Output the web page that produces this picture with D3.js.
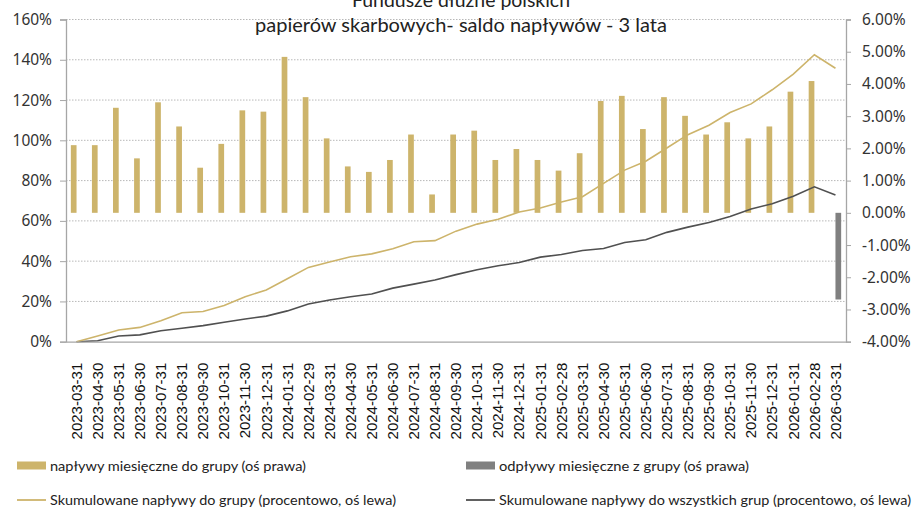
<!DOCTYPE html>
<html><head><meta charset="utf-8">
<script src="https://cdn.jsdelivr.net/npm/d3@7"></script>
<style>body{margin:0;background:#fff}svg{display:block}</style>
</head><body><svg id="c" width="912" height="509"></svg>
<script>
const dates = ["2023-03-31","2023-04-30","2023-05-31","2023-06-30","2023-07-31","2023-08-31","2023-09-30","2023-10-31","2023-11-30","2023-12-31","2024-01-31","2024-02-29","2024-03-31","2024-04-30","2024-05-31","2024-06-30","2024-07-31","2024-08-31","2024-09-30","2024-10-31","2024-11-30","2024-12-31","2025-01-31","2025-02-28","2025-03-31","2025-04-30","2025-05-31","2025-06-30","2025-07-31","2025-08-31","2025-09-30","2025-10-31","2025-11-30","2025-12-31","2026-01-31","2026-02-28","2026-03-31"];
// monthly inflows to group, % (right axis)
const inflows = [2.10,2.10,3.26,1.69,3.43,2.68,1.40,2.14,3.18,3.14,4.84,3.59,2.31,1.44,1.27,1.64,2.43,0.57,2.43,2.55,1.64,1.98,1.64,1.31,1.85,3.47,3.63,2.60,3.59,3.01,2.43,2.81,2.31,2.68,3.76,4.09,0];
// monthly outflows from group, % (right axis)
const outflows = [0,0,0,0,0,0,0,0,0,0,0,0,0,0,0,0,0,0,0,0,0,0,0,0,0,0,0,0,0,0,0,0,0,0,0,0,-2.69];
// cumulative inflows to group, % (left axis)
const cumGroup = [0,2.8,5.8,7.1,10.4,14.4,15.0,18.0,22.3,25.7,31.3,36.9,39.6,42.2,43.6,46.2,49.6,50.2,54.9,58.4,60.8,64.4,66.4,69.4,72.0,78.6,85.2,89.6,96.2,102.8,107.5,113.8,118.1,125.1,132.9,142.5,135.8];
// cumulative inflows to all groups, % (left axis)
const cumAll = [0,0.5,2.8,3.4,5.4,6.7,8.0,9.7,11.3,12.7,15.3,18.7,20.7,22.3,23.7,26.6,28.6,30.6,33.3,35.7,37.7,39.3,42.0,43.3,45.3,46.3,49.3,50.6,54.3,56.9,59.2,62.2,65.9,68.5,72.2,76.9,72.9];
const leftTicks = [0,20,40,60,80,100,120,140,160];
const rightTicks = [-4,-3,-2,-1,0,1,2,3,4,5,6];
const titleLines = ["Fundusze dłużne polskich","papierów skarbowych- saldo napływów - 3 lata"];
const legendItems = ["napływy miesięczne do grupy (oś prawa)","odpływy miesięczne z grupy (oś prawa)","Skumulowane napływy do grupy (procentowo, oś lewa)","Skumulowane napływy do wszystkich grup (procentowo, oś lewa)"];

const GOLD = "#cdb46b", GREY = "#808080", DARK = "#505050", AX = "#a6a6a6";
const L = 66, R = 846, T = 19.5, B = 341.7;
const svg = d3.select("#c");

const x = d3.scaleBand().domain(dates).range([L, R]).padding(0);
const xs = d3.scaleBand().domain(["in","out"]).range([0, x.bandwidth()]).paddingInner(0).paddingOuter(0.85);
const yL = d3.scaleLinear().domain([0,160]).range([B, T]);
const yR = d3.scaleLinear().domain([-4,6]).range([B, T]);

// gridlines
svg.append("g").selectAll("line").data(leftTicks.filter(d=>d>0)).join("line")
  .attr("x1", L).attr("x2", R).attr("y1", d=>yL(d)).attr("y2", d=>yL(d))
  .attr("stroke", "#b8b8b8").attr("stroke-width", 1).attr("stroke-dasharray", "1.5,1.5");

// bars
const cx = d => x(d) + x.bandwidth()/2;
svg.append("g").selectAll("rect").data(dates.map((d,i)=>({d, v: inflows[i]})).filter(o=>o.v!==0)).join("rect")
  .attr("x", o=>x(o.d)+xs("in")).attr("width", xs.bandwidth())
  .attr("y", o=>yR(Math.max(0,o.v))).attr("height", o=>Math.abs(yR(o.v)-yR(0)))
  .attr("fill", GOLD);
svg.append("g").selectAll("rect").data(dates.map((d,i)=>({d, v: outflows[i]})).filter(o=>o.v!==0)).join("rect")
  .attr("x", o=>x(o.d)+xs("out")).attr("width", xs.bandwidth())
  .attr("y", o=>yR(Math.max(0,o.v))).attr("height", o=>Math.abs(yR(o.v)-yR(0)))
  .attr("fill", GREY);

// lines
const line = d3.line().x((v,i)=>cx(dates[i])).y(v=>yL(v));
svg.append("path").datum(cumAll).attr("d", line).attr("fill","none").attr("stroke", DARK).attr("stroke-width",1.6);
svg.append("path").datum(cumGroup).attr("d", line).attr("fill","none").attr("stroke", GOLD).attr("stroke-width",1.6);

// axes
const tickFont = "'Noto Sans', sans-serif";
const ga = svg.append("g").attr("transform", `translate(${L},0)`)
  .call(d3.axisLeft(yL).tickValues(leftTicks).tickFormat(d=>d+"%").tickSize(6).tickPadding(8));
const gr = svg.append("g").attr("transform", `translate(${R},0)`)
  .call(d3.axisRight(yR).tickValues(rightTicks).tickFormat(d=>d.toFixed(2)+"%").tickSize(5).tickPadding(11));
[ga, gr].forEach(g=>{
  g.select(".domain").attr("stroke", AX).attr("stroke-width",1.3);
  g.selectAll(".tick line").attr("stroke", AX);
  g.selectAll(".tick text").attr("font-family", tickFont).attr("font-size", 15.5).attr("fill","#333");
});
// bottom axis
const gb = svg.append("g").attr("transform", `translate(0,${B})`)
  .call(d3.axisBottom(x).tickSize(0).tickPadding(0));
gb.select(".domain").attr("stroke", AX).attr("stroke-width",1.3);
gb.selectAll(".tick text")
  .attr("font-family","'Liberation Sans', Arial, sans-serif").attr("font-size",15).attr("fill","#111")
  .attr("text-anchor","end").attr("dy","0.35em")
  .attr("transform","translate(0,21) rotate(-90)");

// title
const titleFont = "'Lato', 'Noto Sans', sans-serif";
svg.append("g").selectAll("text").data(titleLines).join("text")
  .attr("x", 461).attr("y", (d,i)=>7 + i*24.5)
  .attr("text-anchor","middle").attr("font-family", titleFont).attr("font-size", 20)
  .attr("fill","#222").text(d=>d)
  .attr("textLength", (d,i)=> i===0 ? 218 : 412).attr("lengthAdjust","spacingAndGlyphs");

// legend
const legFont = "'Lato', 'Noto Sans', sans-serif";
const legPos = [{x:17,y:466,type:"rect",c:GOLD,w:256},{x:466,y:466,type:"rect",c:GREY,w:250},
                {x:17,y:500,type:"line",c:GOLD,w:346},{x:466,y:500,type:"line",c:DARK,w:412}];
const lg = svg.append("g");
legendItems.forEach((t,i)=>{
  const p = legPos[i];
  if (p.type==="rect") lg.append("rect").attr("x",p.x).attr("y",p.y-4.5).attr("width",29).attr("height",8).attr("fill",p.c);
  else lg.append("line").attr("x1",p.x).attr("x2",p.x+29).attr("y1",p.y).attr("y2",p.y).attr("stroke",p.c).attr("stroke-width",1.8);
  lg.append("text").attr("x",p.x+33).attr("y",p.y).attr("dy","0.35em")
    .attr("font-family",legFont).attr("font-size",14).attr("fill","#222")
    .attr("textLength",p.w).attr("lengthAdjust","spacingAndGlyphs").text(t);
});
</script></body></html>
